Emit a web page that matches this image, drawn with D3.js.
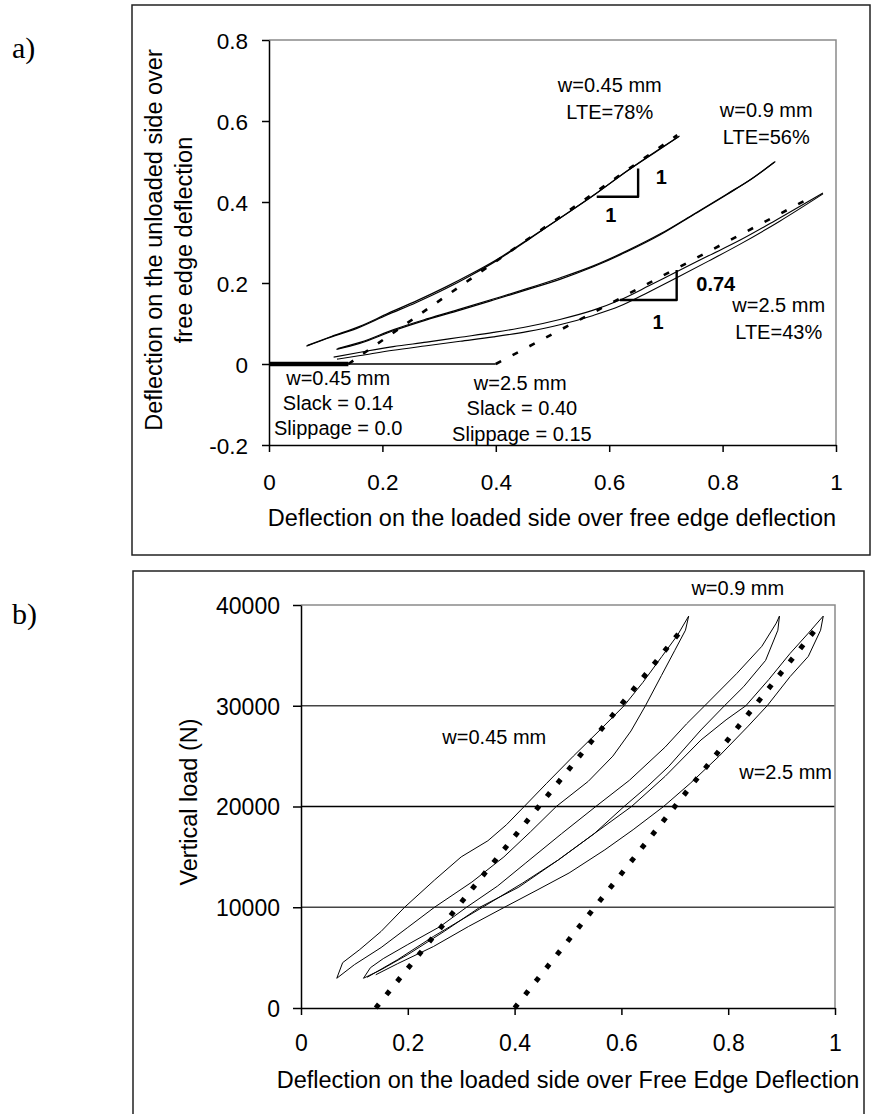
<!DOCTYPE html>
<html>
<head>
<meta charset="utf-8">
<script src="https://cdn.jsdelivr.net/npm/d3@7"></script>
<style>
  html, body { margin: 0; padding: 0; background: #fff; }
  svg { display: block; }
  text { font-family: "Liberation Sans", Arial, sans-serif; fill: #000; }
</style>
</head>
<body>
<svg id="fig" width="872" height="1114"></svg>
<script>
// ---------- Panel a: unloaded vs loaded side deflection ----------
const aXTicks = [0, 0.2, 0.4, 0.6, 0.8, 1];
const aXTickLabels = ["0", "0.2", "0.4", "0.6", "0.8", "1"];
const aYTicks = [-0.2, 0, 0.2, 0.4, 0.6, 0.8];
const aYTickLabels = ["-0.2", "0", "0.2", "0.4", "0.6", "0.8"];

// w = 0.45 mm, loading and unloading
const a045Load = [[0.066,0.044],[0.102,0.063],[0.155,0.088],[0.208,0.121],[0.260,0.152],[0.313,0.187],[0.355,0.218],[0.400,0.254],[0.454,0.304],[0.513,0.360],[0.572,0.416],[0.631,0.476],[0.690,0.531],[0.724,0.563]];
const a045Unload = [[0.068,0.046],[0.110,0.068],[0.160,0.093],[0.210,0.125],[0.262,0.157],[0.313,0.191],[0.356,0.222],[0.402,0.258],[0.455,0.306],[0.515,0.362],[0.575,0.419],[0.632,0.477],[0.690,0.532],[0.722,0.561]];
// w = 0.9 mm
const a09Load = [[0.119,0.036],[0.160,0.051],[0.219,0.082],[0.278,0.109],[0.337,0.133],[0.396,0.158],[0.454,0.183],[0.513,0.209],[0.572,0.240],[0.631,0.277],[0.690,0.319],[0.748,0.368],[0.807,0.418],[0.850,0.456],[0.893,0.500]];
const a09Unload = [[0.121,0.038],[0.162,0.054],[0.220,0.085],[0.280,0.112],[0.338,0.136],[0.397,0.161],[0.455,0.186],[0.514,0.213],[0.573,0.243],[0.632,0.280],[0.691,0.322],[0.749,0.370],[0.808,0.420],[0.851,0.457],[0.891,0.498]];
// w = 2.5 mm
const a25Load = [[0.114,0.017],[0.161,0.029],[0.219,0.043],[0.278,0.054],[0.337,0.066],[0.396,0.078],[0.455,0.092],[0.513,0.110],[0.572,0.133],[0.619,0.158],[0.670,0.193],[0.719,0.228],[0.775,0.267],[0.831,0.306],[0.900,0.360],[0.977,0.422]];
const a25Unload = [[0.120,0.012],[0.161,0.021],[0.219,0.034],[0.278,0.045],[0.337,0.056],[0.396,0.067],[0.455,0.080],[0.513,0.097],[0.572,0.120],[0.619,0.143],[0.670,0.178],[0.719,0.213],[0.775,0.254],[0.831,0.296],[0.900,0.352],[0.977,0.420]];

// linear fits from the slack points 0.14 and 0.40
const a045Fit = [[0.14,0],[0.72,0.565]];
const a25Fit = [[0.40,0],[0.95,0.407]];
const aSlack25 = [[0,0],[0.40,0]];
const aSlack045 = [[0,0],[0.14,0]];
const aTri045 = [[0.578,0.413],[0.651,0.413],[0.651,0.483]];
const aTri25 = [[0.619,0.158],[0.719,0.158],[0.719,0.232]];

const aNotes = [
  {t:"w=0.45 mm", x:0.601, y:0.689}, {t:"LTE=78%", x:0.601, y:0.622},
  {t:"w=0.9 mm", x:0.877, y:0.627}, {t:"LTE=56%", x:0.877, y:0.560},
  {t:"w=2.5 mm", x:0.899, y:0.146}, {t:"LTE=43%", x:0.899, y:0.080},
  {t:"w=0.45 mm", x:0.122, y:-0.035}, {t:"Slack = 0.14", x:0.122, y:-0.097},
  {t:"Slippage = 0.0", x:0.122, y:-0.158},
  {t:"w=2.5 mm", x:0.443, y:-0.047}, {t:"Slack = 0.40", x:0.446, y:-0.109},
  {t:"Slippage = 0.15", x:0.446, y:-0.173}
];
const aSlopeNotes = [
  {t:"1", x:0.692, y:0.462}, {t:"1", x:0.603, y:0.368},
  {t:"0.74", x:0.788, y:0.199}, {t:"1", x:0.686, y:0.104}
];

// ---------- Panel b: vertical load vs loaded side deflection ----------
const bXTicks = [0, 0.2, 0.4, 0.6, 0.8, 1];
const bXTickLabels = ["0", "0.2", "0.4", "0.6", "0.8", "1"];
const bYTicks = [0, 10000, 20000, 30000, 40000];
const bYTickLabels = ["0", "10000", "20000", "30000", "40000"];

const b045Up = [[0.067,2950],[0.078,4500],[0.110,5800],[0.150,7600],[0.194,10000],[0.250,12700],[0.300,15000],[0.350,16600],[0.385,18200],[0.418,20000],[0.460,22300],[0.510,25000],[0.560,27600],[0.605,30000],[0.640,32300],[0.676,34900],[0.705,37000],[0.726,38900]];
const b045Down = [[0.726,38900],[0.720,37500],[0.700,35500],[0.675,33000],[0.645,30000],[0.618,27500],[0.584,25000],[0.538,22500],[0.478,20000],[0.430,17500],[0.380,15000],[0.320,12500],[0.250,10000],[0.200,8000],[0.150,6000],[0.100,4300],[0.067,2950]];
const b09Up = [[0.117,2950],[0.130,4000],[0.154,4900],[0.200,6300],[0.261,8100],[0.310,10000],[0.368,12100],[0.421,14400],[0.488,17300],[0.552,20000],[0.615,22600],[0.682,25900],[0.722,28200],[0.756,30000],[0.816,33200],[0.863,35900],[0.890,38200],[0.896,38900]];
const b09Down = [[0.896,38900],[0.893,37500],[0.870,34500],[0.829,31900],[0.793,30000],[0.749,27600],[0.689,24000],[0.649,22000],[0.605,20000],[0.549,17300],[0.482,14700],[0.408,12000],[0.335,10000],[0.268,7600],[0.200,5300],[0.150,3800],[0.117,2950]];
const b25Up = [[0.124,3050],[0.181,4800],[0.248,7100],[0.340,10000],[0.415,12400],[0.482,14700],[0.549,17300],[0.619,20000],[0.682,23000],[0.749,26600],[0.796,28600],[0.833,30000],[0.876,32600],[0.916,35200],[0.950,37200],[0.978,38900]];
const b25Down = [[0.978,38900],[0.973,37500],[0.950,34900],[0.916,32900],[0.873,30000],[0.836,27900],[0.783,25000],[0.729,22300],[0.679,20000],[0.622,17700],[0.569,15700],[0.502,13400],[0.442,11700],[0.381,10000],[0.314,8100],[0.248,6100],[0.181,4400],[0.140,3300]];
const b045Fit = [[0.14,0],[0.72,38000]];
const b25Fit = [[0.40,0],[0.97,38000]];

const bNotes = [
  {t:"w=0.9 mm", x:0.818, y:41700},
  {t:"w=0.45 mm", x:0.362, y:26900},
  {t:"w=2.5 mm", x:0.9075, y:23400}
];

// ---------- drawing ----------
const svg = d3.select("#fig");

// panel frames and panel letters
svg.append("rect").attr("x", 132).attr("y", 5).attr("width", 738).attr("height", 550)
  .attr("fill", "none").attr("stroke", "#222").attr("stroke-width", 1.5);
svg.append("rect").attr("x", 133).attr("y", 571).attr("width", 731).attr("height", 560)
  .attr("fill", "none").attr("stroke", "#222").attr("stroke-width", 1.5);
svg.append("text").attr("x", 12).attr("y", 58).text("a)")
  .style("font-family", "'Liberation Serif', 'Times New Roman', serif").style("font-size", "30px");
svg.append("text").attr("x", 12).attr("y", 624).text("b)")
  .style("font-family", "'Liberation Serif', 'Times New Roman', serif").style("font-size", "30px");

function styleAxis(g, size) {
  g.selectAll(".domain").attr("stroke", "#000").attr("stroke-width", 1.5);
  g.selectAll(".tick line").attr("stroke", "#000").attr("stroke-width", 1.5);
  g.selectAll(".tick text").style("font-size", size + "px")
    .style("font-family", "'Liberation Sans', Arial, sans-serif").attr("fill", "#000");
}

// ----- panel a -----
const xA = d3.scaleLinear().domain([0, 1]).range([269, 836]);
const yA = d3.scaleLinear().domain([-0.2, 0.8]).range([445, 40]);

// plot-area border (top and right)
svg.append("path")
  .attr("d", `M${xA(0)},${yA(0.8)}H${xA(1)}V${yA(-0.2)}`)
  .attr("fill", "none").attr("stroke", "#8a8a8a").attr("stroke-width", 1.5);

const gAx = svg.append("g").attr("transform", `translate(0,${yA(-0.2)})`)
  .call(d3.axisBottom(xA).tickValues(aXTicks).tickFormat((d, i) => aXTickLabels[i])
    .tickSize(7).tickSizeOuter(0).tickPadding(22));
styleAxis(gAx, 22.5);
const gAy = svg.append("g").attr("transform", `translate(${xA(0)},0)`)
  .call(d3.axisLeft(yA).tickValues(aYTicks).tickFormat((d, i) => aYTickLabels[i])
    .tickSize(7).tickSizeOuter(0).tickPadding(14));
styleAxis(gAy, 22.5);
gAy.selectAll(".tick text").attr("dy", "0.36em");

const lineA = d3.line().x(d => xA(d[0])).y(d => yA(d[1]));
const curveA = d3.line().x(d => xA(d[0])).y(d => yA(d[1])).curve(d3.curveMonotoneX);

function drawA(data, w, dash, gen) {
  const p = svg.append("path").attr("d", (gen || lineA)(data)).attr("fill", "none")
    .attr("stroke", "#000").attr("stroke-width", w).attr("stroke-linejoin", "round");
  if (dash) p.attr("stroke-dasharray", dash);
  return p;
}

drawA(aSlack25, 1.6);
drawA(aSlack045, 4.5);
[a045Load, a045Unload, a09Load, a09Unload].forEach(d => drawA(d, 1.2, null, curveA));
[a25Load, a25Unload].forEach(d => drawA(d, 1.1, null, curveA));
drawA(a045Fit, 2.6, "6,12");
drawA(a25Fit, 2.6, "6,13");
drawA(aTri045, 2.4);
drawA(aTri25, 2.4);

svg.append("g").selectAll("text").data(aNotes).join("text")
  .attr("x", d => xA(d.x)).attr("y", d => yA(d.y)).attr("dy", "0.36em")
  .attr("text-anchor", "middle").style("font-size", "20px").text(d => d.t);
svg.append("g").selectAll("text").data(aSlopeNotes).join("text")
  .attr("x", d => xA(d.x)).attr("y", d => yA(d.y)).attr("dy", "0.36em")
  .attr("text-anchor", "middle").style("font-size", "20px").style("font-weight", "bold").text(d => d.t);

svg.append("text").attr("x", 552).attr("y", 518).attr("dy", "0.36em")
  .attr("text-anchor", "middle").style("font-size", "23.5px")
  .text("Deflection on the loaded side over free edge deflection");
svg.append("text").attr("transform", "translate(154,240) rotate(-90)").attr("dy", "0.36em")
  .attr("text-anchor", "middle").style("font-size", "23.5px")
  .text("Deflection on the unloaded side over");
svg.append("text").attr("transform", "translate(184,240) rotate(-90)").attr("dy", "0.36em")
  .attr("text-anchor", "middle").style("font-size", "23.5px")
  .text("free edge deflection");

// ----- panel b -----
const xB = d3.scaleLinear().domain([0, 1]).range([301, 835]);
const yB = d3.scaleLinear().domain([0, 40000]).range([1008, 605]);

// horizontal gridlines
svg.append("g").selectAll("line").data([10000, 20000, 30000]).join("line")
  .attr("x1", xB(0)).attr("x2", xB(1)).attr("y1", d => yB(d)).attr("y2", d => yB(d))
  .attr("stroke", d => d === 20000 ? "#000" : "#444").attr("stroke-width", 1.5);
svg.append("path")
  .attr("d", `M${xB(0)},${yB(40000)}H${xB(1)}V${yB(0)}`)
  .attr("fill", "none").attr("stroke", "#8a8a8a").attr("stroke-width", 1.5);

const gBx = svg.append("g").attr("transform", `translate(0,${yB(0)})`)
  .call(d3.axisBottom(xB).tickValues(bXTicks).tickFormat((d, i) => bXTickLabels[i])
    .tickSize(7).tickSizeOuter(0).tickPadding(20));
styleAxis(gBx, 23);
const gBy = svg.append("g").attr("transform", `translate(${xB(0)},0)`)
  .call(d3.axisLeft(yB).tickValues(bYTicks).tickFormat((d, i) => bYTickLabels[i])
    .tickSize(8).tickSizeOuter(0).tickPadding(13));
styleAxis(gBy, 23);
gBy.selectAll(".tick text").attr("dy", "0.36em");

const lineB = d3.line().x(d => xB(d[0])).y(d => yB(d[1]));
[b045Up, b045Down, b09Up, b09Down, b25Up, b25Down].forEach(d => {
  svg.append("path").attr("d", lineB(d)).attr("fill", "none")
    .attr("stroke", "#000").attr("stroke-width", 1).attr("stroke-linejoin", "round");
});
[b045Fit, b25Fit].forEach(d => {
  svg.append("path").attr("d", lineB(d)).attr("fill", "none")
    .attr("stroke", "#000").attr("stroke-width", 5).attr("stroke-dasharray", "5,12");
});

svg.append("g").selectAll("text").data(bNotes).join("text")
  .attr("x", d => xB(d.x)).attr("y", d => yB(d.y)).attr("dy", "0.36em")
  .attr("text-anchor", "middle").style("font-size", "20px").text(d => d.t);

svg.append("text").attr("x", 568).attr("y", 1080).attr("dy", "0.36em")
  .attr("text-anchor", "middle").style("font-size", "23.5px")
  .text("Deflection on the loaded side over Free Edge Deflection");
svg.append("text").attr("transform", "translate(189,802) rotate(-90)").attr("dy", "0.36em")
  .attr("text-anchor", "middle").style("font-size", "23.5px")
  .text("Vertical load (N)");
</script>
</body>
</html>
